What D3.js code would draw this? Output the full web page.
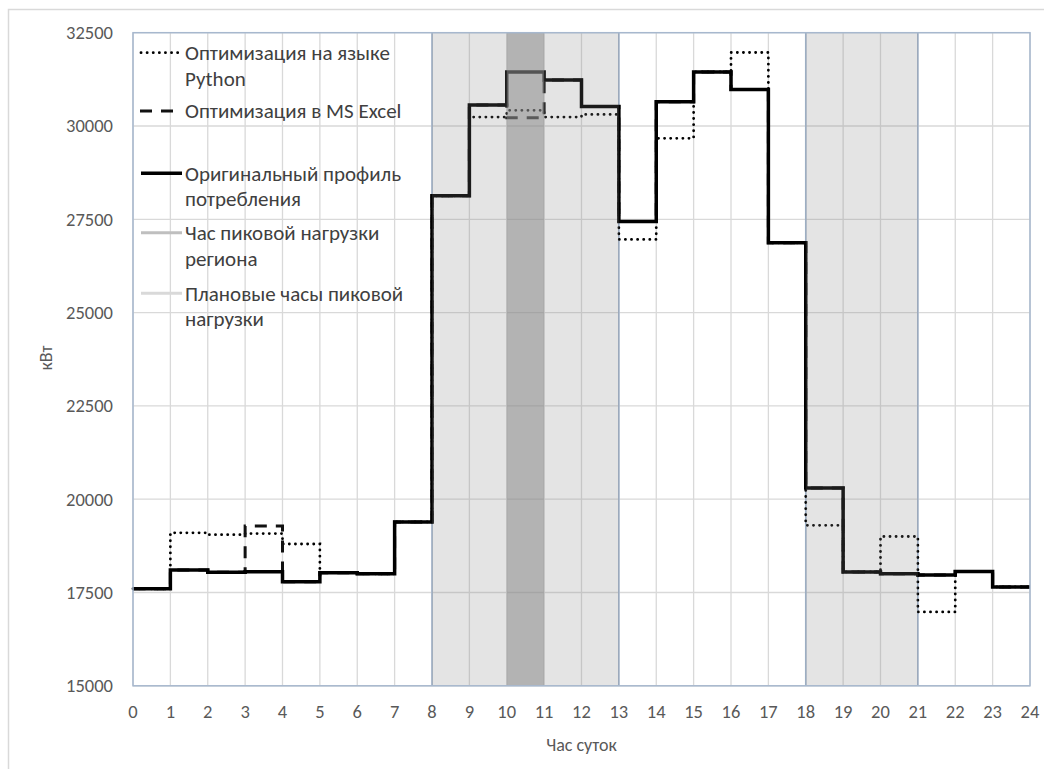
<!DOCTYPE html>
<html>
<head>
<meta charset="utf-8">
<title>Профиль потребления</title>
<script src="https://cdn.jsdelivr.net/npm/d3@7"></script>
<style>
  body { margin: 0; background: #fff; }
  svg text { font-family: Carlito, Calibri, Lato, "Open Sans", sans-serif; fill: #595959; }
</style>
</head>
<body>
<div id="chart"></div>
<script>
// часы суток
const hours = [0,1,2,3,4,5,6,7,8,9,10,11,12,13,14,15,16,17,18,19,20,21,22,23];
// исходный профиль, кВт
const original = [17600,18100,18040,18055,17790,18030,18000,19390,28130,30560,31450,31230,30520,27440,30650,31450,30980,26870,20300,18050,18000,17970,18060,17650];
// оптимизация Python
const python = [17600,19100,19050,19080,18800,18030,18000,19390,28130,30240,30420,30240,30310,26960,29670,31450,31970,26870,19300,18050,19000,16980,18060,17650];
// оптимизация MS Excel
const excel = [17600,18100,18040,19280,17790,18030,18000,19390,28130,30560,30220,31230,30520,27440,30650,31450,30980,26870,20300,18050,18000,17970,18060,17650];

const plannedPeaks = [[8, 13], [18, 21]];
const regionPeak = [10, 11];

const yTicks = [15000,17500,20000,22500,25000,27500,30000,32500];
const xTicks = d3.range(0, 25);

const legendItems = [
  {lines: ["Оптимизация на языке", "Python"], type: "dot"},
  {lines: ["Оптимизация в MS Excel"], type: "dash"},
  {lines: ["Оригинальный профиль", "потребления"], type: "solid"},
  {lines: ["Час пиковой нагрузки", "региона"], type: "peak"},
  {lines: ["Плановые часы пиковой", "нагрузки"], type: "plan"}
];

const W = 1044, H = 769;
const x = d3.scaleLinear().domain([0, 24]).range([133, 1030]);
const y = d3.scaleLinear().domain([15000, 32500]).range([685.8, 32.7]);

const svg = d3.select("#chart").append("svg")
  .attr("width", W).attr("height", H);

svg.append("rect").attr("width", W).attr("height", H).attr("fill", "#fff");
// рамка диаграммы
svg.append("rect").attr("x", 8.5).attr("y", 9.5).attr("width", 1100).attr("height", 1000)
  .attr("fill", "none").attr("stroke", "#d9d9d9").attr("stroke-width", 1.5);

// сетка
svg.append("g").selectAll("line").data(yTicks).join("line")
  .attr("x1", x(0)).attr("x2", x(24))
  .attr("y1", d => y(d)).attr("y2", d => y(d))
  .attr("stroke", "#d9d9d9").attr("stroke-width", 1.3);
svg.append("g").selectAll("line").data(xTicks).join("line")
  .attr("x1", d => x(d)).attr("x2", d => x(d))
  .attr("y1", y(15000)).attr("y2", y(32500))
  .attr("stroke", "#d9d9d9").attr("stroke-width", 1.3);

// подписи осей
svg.append("g").selectAll("text").data(yTicks).join("text")
  .attr("x", 113).attr("y", d => y(d)).attr("dy", "0.35em")
  .attr("text-anchor", "end").attr("font-size", 18.5)
  .text(d => d);
svg.append("g").selectAll("text").data(xTicks).join("text")
  .attr("x", d => x(d)).attr("y", 712).attr("dy", "0.35em")
  .attr("text-anchor", "middle").attr("font-size", 18.5)
  .text(d => d);
svg.append("text").attr("x", (x(0) + x(24)) / 2).attr("y", 745).attr("dy", "0.35em")
  .attr("text-anchor", "middle").attr("font-size", 18).text("Час суток");
svg.append("text").attr("transform", "translate(46,358) rotate(-90)").attr("dy", "0.35em")
  .attr("text-anchor", "middle").attr("font-size", 18).text("кВт");

// границы плановых часов
svg.append("g").selectAll("line").data(plannedPeaks.flat()).join("line")
  .attr("x1", d => x(d)).attr("x2", d => x(d))
  .attr("y1", y(15000)).attr("y2", y(32500))
  .attr("stroke", "#9fb1c8").attr("stroke-width", 1.6);

// линии
const step = vals => hours.map((h, i) => [h, vals[i]]).concat([[24, vals[vals.length - 1]]]);
const line = d3.line().x(d => x(d[0])).y(d => y(d[1])).curve(d3.curveStepAfter);

svg.append("path").datum(step(python)).attr("d", line)
  .attr("fill", "none").attr("stroke", "#000").attr("stroke-width", 2.8)
  .attr("stroke-linecap", "round").attr("stroke-dasharray", "0.1 6");
svg.append("path").datum(step(excel)).attr("d", line)
  .attr("fill", "none").attr("stroke", "#111").attr("stroke-width", 3)
  .attr("stroke-dasharray", "12 9");
svg.append("path").datum(step(original)).attr("d", line)
  .attr("fill", "none").attr("stroke", "#000").attr("stroke-width", 3.5)
  .attr("stroke-linejoin", "miter");

// полосы поверх
svg.append("g").selectAll("rect").data(plannedPeaks).join("rect")
  .attr("x", d => x(d[0])).attr("width", d => x(d[1]) - x(d[0]))
  .attr("y", y(32500)).attr("height", y(15000) - y(32500))
  .attr("fill", "#808080").attr("fill-opacity", 0.21);
svg.append("rect")
  .attr("x", x(regionPeak[0])).attr("width", x(regionPeak[1]) - x(regionPeak[0]))
  .attr("y", y(32500)).attr("height", y(15000) - y(32500))
  .attr("fill", "#888").attr("fill-opacity", 0.53);

// рамка области построения
svg.append("rect").attr("x", x(0)).attr("y", y(32500))
  .attr("width", x(24) - x(0)).attr("height", y(15000) - y(32500))
  .attr("fill", "none").attr("stroke", "#a7b8ce").attr("stroke-width", 1.5);

// легенда
const legendY = [52.7, 111, 173.3, 232.7, 293.3];
const lineGap = 25.6;
const lg = svg.append("g");
legendItems.forEach((it, i) => {
  const ly = legendY[i];
  const s = lg.append("line").attr("x1", 141).attr("x2", 182).attr("y1", ly).attr("y2", ly)
    .attr("fill", "none");
  if (it.type === "dot") s.attr("stroke", "#000").attr("stroke-width", 2.8).attr("stroke-linecap", "round").attr("stroke-dasharray", "0.1 6");
  else if (it.type === "dash") s.attr("stroke", "#111").attr("stroke-width", 3).attr("stroke-dasharray", "12 9").attr("x1", 140).attr("x2", 180);
  else if (it.type === "solid") s.attr("stroke", "#000").attr("stroke-width", 3.5);
  else if (it.type === "peak") s.attr("stroke", "#bfbfbf").attr("stroke-width", 3);
  else s.attr("stroke", "#d9d9d9").attr("stroke-width", 3);
  it.lines.forEach((t, j) => {
    lg.append("text").attr("x", 185).attr("y", ly + j * lineGap).attr("dy", "0.35em")
      .attr("font-size", 21).style("fill", "#404040").text(t);
  });
});
</script>
</body>
</html>
